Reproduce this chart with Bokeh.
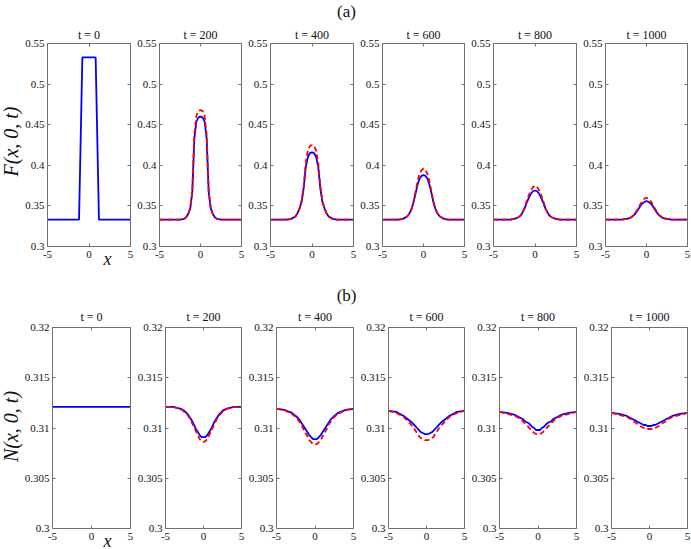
import math
from bokeh.plotting import figure
from bokeh.models import Range1d, FixedTicker, LinearAxis
from bokeh.layouts import row, column
from bokeh.embed import file_html
from bokeh.resources import INLINE
from bokeh.core.properties import value

# ---------------- data ----------------
TITLES = ["t = 0", "t = 200", "t = 400", "t = 600", "t = 800", "t = 1000"]

X = [-5, -4, -3, -2.5, -2, -1.75, -1.5, -1.25, -1, -0.75, -0.5, -0.25, 0,
     0.25, 0.5, 0.75, 1, 1.25, 1.5, 1.75, 2, 2.5, 3, 4, 5]

X_INIT_F = [-5, -1.2, -0.8, 0.8, 1.2, 5]
F_INIT = [0.333, 0.333, 0.533, 0.533, 0.333, 0.333]
X_INIT_N = [-5, 5]
N_INIT = [0.3121, 0.3121]

F_SOLID_200 = [0.333, 0.333, 0.333, 0.333, 0.334, 0.336, 0.340, 0.347, 0.367, 0.433, 0.454, 0.459, 0.460,
               0.459, 0.454, 0.433, 0.367, 0.347, 0.340, 0.336, 0.334, 0.333, 0.333, 0.333, 0.333]
F_DASH_200 = [0.333, 0.333, 0.333, 0.333, 0.334, 0.336, 0.340, 0.347, 0.368, 0.438, 0.461, 0.467, 0.468,
              0.467, 0.461, 0.438, 0.368, 0.347, 0.340, 0.336, 0.334, 0.333, 0.333, 0.333, 0.333]
F_SOLID_400 = [0.333, 0.333, 0.333, 0.334, 0.337, 0.341, 0.347, 0.355, 0.372, 0.398, 0.410, 0.415, 0.416,
               0.415, 0.410, 0.398, 0.372, 0.355, 0.347, 0.341, 0.337, 0.334, 0.333, 0.333, 0.333]
F_DASH_400 = [0.333, 0.333, 0.333, 0.334, 0.337, 0.341, 0.347, 0.356, 0.375, 0.403, 0.418, 0.424, 0.425,
              0.424, 0.418, 0.403, 0.375, 0.356, 0.347, 0.341, 0.337, 0.334, 0.333, 0.333, 0.333]
F_SOLID_600 = [0.333, 0.333, 0.333, 0.334, 0.337, 0.340, 0.345, 0.353, 0.364, 0.375, 0.383, 0.387, 0.388,
               0.387, 0.383, 0.375, 0.364, 0.353, 0.345, 0.340, 0.337, 0.334, 0.333, 0.333, 0.333]
F_DASH_600 = [0.333, 0.333, 0.333, 0.334, 0.337, 0.340, 0.345, 0.354, 0.366, 0.379, 0.389, 0.394, 0.396,
              0.394, 0.389, 0.379, 0.366, 0.354, 0.345, 0.340, 0.337, 0.334, 0.333, 0.333, 0.333]
F_SOLID_800 = [0.333, 0.333, 0.333, 0.334, 0.336, 0.338, 0.342, 0.347, 0.354, 0.360, 0.365, 0.368, 0.369,
               0.368, 0.365, 0.360, 0.354, 0.347, 0.342, 0.338, 0.336, 0.334, 0.333, 0.333, 0.333]
F_DASH_800 = [0.333, 0.333, 0.333, 0.334, 0.336, 0.338, 0.342, 0.348, 0.356, 0.363, 0.369, 0.373, 0.375,
              0.373, 0.369, 0.363, 0.356, 0.348, 0.342, 0.338, 0.336, 0.334, 0.333, 0.333, 0.333]
F_SOLID_1000 = [0.333, 0.333, 0.333, 0.334, 0.335, 0.337, 0.339, 0.342, 0.346, 0.350, 0.353, 0.355, 0.356,
                0.355, 0.353, 0.350, 0.346, 0.342, 0.339, 0.337, 0.335, 0.334, 0.333, 0.333, 0.333]
F_DASH_1000 = [0.333, 0.333, 0.333, 0.334, 0.335, 0.337, 0.339, 0.343, 0.347, 0.352, 0.356, 0.359, 0.360,
               0.359, 0.356, 0.352, 0.347, 0.343, 0.339, 0.337, 0.335, 0.334, 0.333, 0.333, 0.333]

N_SOLID_200 = [0.3121, 0.3121, 0.3119, 0.3117, 0.3113, 0.3110, 0.3107, 0.3103, 0.3099, 0.3096, 0.3093, 0.3091, 0.3091,
               0.3091, 0.3093, 0.3096, 0.3099, 0.3103, 0.3107, 0.3110, 0.3113, 0.3117, 0.3119, 0.3121, 0.3121]
N_DASH_200 = [0.3121, 0.3121, 0.3119, 0.3116, 0.3112, 0.3109, 0.3105, 0.3101, 0.3097, 0.3093, 0.3089, 0.3087, 0.3086,
              0.3087, 0.3089, 0.3093, 0.3097, 0.3101, 0.3105, 0.3109, 0.3112, 0.3116, 0.3119, 0.3121, 0.3121]
N_SOLID_400 = [0.3119, 0.3118, 0.3115, 0.3112, 0.3108, 0.3105, 0.3102, 0.3099, 0.3096, 0.3093, 0.3091, 0.3089, 0.3089,
               0.3089, 0.3091, 0.3093, 0.3096, 0.3099, 0.3102, 0.3105, 0.3108, 0.3112, 0.3115, 0.3118, 0.3119]
N_DASH_400 = [0.3119, 0.3118, 0.3114, 0.3111, 0.3106, 0.3103, 0.3099, 0.3095, 0.3092, 0.3088, 0.3086, 0.3084, 0.3084,
              0.3084, 0.3086, 0.3088, 0.3092, 0.3095, 0.3099, 0.3103, 0.3106, 0.3111, 0.3114, 0.3118, 0.3119]
N_SOLID_600 = [0.3117, 0.3116, 0.3112, 0.3109, 0.3106, 0.3104, 0.3102, 0.3100, 0.3098, 0.3096, 0.3095, 0.3094, 0.3094,
               0.3094, 0.3095, 0.3096, 0.3098, 0.3100, 0.3102, 0.3104, 0.3106, 0.3109, 0.3112, 0.3116, 0.3117]
N_DASH_600 = [0.3117, 0.3115, 0.3111, 0.3107, 0.3103, 0.3101, 0.3098, 0.3095, 0.3092, 0.3090, 0.3089, 0.3088, 0.3088,
              0.3088, 0.3089, 0.3090, 0.3092, 0.3095, 0.3098, 0.3101, 0.3103, 0.3107, 0.3111, 0.3115, 0.3117]
N_SOLID_800 = [0.3116, 0.3115, 0.3113, 0.3111, 0.3109, 0.3107, 0.3106, 0.3105, 0.3103, 0.3101, 0.3100, 0.3098, 0.3098,
               0.3098, 0.3100, 0.3101, 0.3103, 0.3105, 0.3106, 0.3107, 0.3109, 0.3111, 0.3113, 0.3115, 0.3116]
N_DASH_800 = [0.3116, 0.3114, 0.3112, 0.3110, 0.3107, 0.3105, 0.3103, 0.3101, 0.3099, 0.3097, 0.3095, 0.3094, 0.3094,
              0.3094, 0.3095, 0.3097, 0.3099, 0.3101, 0.3103, 0.3105, 0.3107, 0.3110, 0.3112, 0.3114, 0.3116]
N_SOLID_1000 = [0.3115, 0.3114, 0.3112, 0.3110, 0.3108, 0.3107, 0.3106, 0.3105, 0.3104, 0.3103, 0.3103, 0.3102, 0.3102,
                0.3102, 0.3103, 0.3103, 0.3104, 0.3105, 0.3106, 0.3107, 0.3108, 0.3110, 0.3112, 0.3114, 0.3115]
N_DASH_1000 = [0.3115, 0.3113, 0.3111, 0.3109, 0.3106, 0.3105, 0.3103, 0.3102, 0.3101, 0.3100, 0.3099, 0.3099, 0.3099,
               0.3099, 0.3099, 0.3100, 0.3101, 0.3102, 0.3103, 0.3105, 0.3106, 0.3109, 0.3111, 0.3113, 0.3115]

XTICKS = [-5, 0, 5]
XTICK_LABELS = ["-5", "0", "5"]
F_YTICKS = [0.3, 0.35, 0.4, 0.45, 0.5, 0.55]
F_YTICK_LABELS = ["0.3", "0.35", "0.4", "0.45", "0.5", "0.55"]
N_YTICKS = [0.3, 0.305, 0.31, 0.315, 0.32]
N_YTICK_LABELS = ["0.3", "0.305", "0.31", "0.315", "0.32"]

F_SOLID = [F_INIT, F_SOLID_200, F_SOLID_400, F_SOLID_600, F_SOLID_800, F_SOLID_1000]
F_DASH = [None, F_DASH_200, F_DASH_400, F_DASH_600, F_DASH_800, F_DASH_1000]
N_SOLID = [N_INIT, N_SOLID_200, N_SOLID_400, N_SOLID_600, N_SOLID_800, N_SOLID_1000]
N_DASH = [None, N_DASH_200, N_DASH_400, N_DASH_600, N_DASH_800, N_DASH_1000]

# ---------------- layout (page pixels) ----------------
TOP_FRAME_LEFT = [47, 158, 270, 381, 493, 604]
BOT_FRAME_LEFT = [52, 163, 275, 386, 498, 609]
FIG_EDGES = [0, 134, 245, 357, 468, 580, 691]
TOP_FW, BOT_FW = 83, 78
TOP_H, BOT_H = 285, 264
TOP_FT, TOP_FH = 43, 203
BOT_FT, BOT_FH = 42, 201      # relative to the bottom row (starts at 285)

SERIF = "Liberation Serif"
AX_COL = "#707070"
TXT_COL = "#111111"


def style_axis(ax, ticks, labels, show, standoff):
    ax.ticker = FixedTicker(ticks=ticks)
    ax.major_tick_in = 3
    ax.major_tick_out = 0
    ax.minor_tick_line_color = None
    ax.axis_line_color = AX_COL
    ax.major_tick_line_color = AX_COL
    ax.major_label_text_font = SERIF
    ax.major_label_text_font_size = "11px"
    ax.major_label_text_color = TXT_COL
    if show:
        ax.major_label_standoff = standoff
        ax.major_label_overrides = dict(zip(ticks, labels))
    else:
        ax.major_label_standoff = 0
        ax.major_label_text_font_size = "0px"
        ax.major_label_overrides = {t: "" for t in ticks}


def add_text(p, x, y, s, size, style="normal", angle=0.0):
    p.text(x=[x], y=[y], text=[s], angle=angle,
           text_align=value("center"), text_baseline=value("middle"),
           text_font=value(SERIF), text_font_size=value(size),
           text_font_style=value(style), text_color=TXT_COL, level="overlay")


def panel(i, top):
    x0, x1 = FIG_EDGES[i], FIG_EDGES[i + 1]
    if top:
        fl = TOP_FRAME_LEFT[i]
        fw, ft, fh, H = TOP_FW, TOP_FT, TOP_FH, TOP_H
        ymin, ymax = 0.3, 0.55
        yt, ytl = F_YTICKS, F_YTICK_LABELS
        solid, dash = F_SOLID[i], F_DASH[i]
        xs0 = X_INIT_F
        y_off = 0
    else:
        fl = BOT_FRAME_LEFT[i]
        fw, ft, fh, H = BOT_FW, BOT_FT, BOT_FH, BOT_H
        ymin, ymax = 0.3, 0.32
        yt, ytl = N_YTICKS, N_YTICK_LABELS
        solid, dash = N_SOLID[i], N_DASH[i]
        xs0 = X_INIT_N
        y_off = TOP_H
    lb = fl - x0
    rb = x1 - (fl + fw)
    bb = H - ft - fh
    p = figure(width=x1 - x0, height=H,
               x_range=Range1d(-5, 5), y_range=Range1d(ymin, ymax),
               output_backend="svg", toolbar_location=None,
               min_border_left=lb, min_border_right=rb,
               min_border_top=ft, min_border_bottom=bb)
    p.xgrid.grid_line_color = None
    p.ygrid.grid_line_color = None
    p.outline_line_color = None
    p.background_fill_color = "white"
    p.border_fill_color = "white"

    style_axis(p.xaxis[0], XTICKS, XTICK_LABELS, True, 4)
    style_axis(p.yaxis[0], yt, ytl, True, 3)
    ax_r = LinearAxis()
    style_axis(ax_r, yt, ytl, False, 0)
    p.add_layout(ax_r, "right")
    ax_t = LinearAxis()
    style_axis(ax_t, XTICKS, XTICK_LABELS, False, 0)
    p.add_layout(ax_t, "above")

    xs = xs0 if i == 0 else X
    p.line(xs, solid, line_color="#0000ff", line_width=1.8)
    if dash is not None:
        p.line(X, dash, line_color="#ff0000", line_width=1.8, line_dash="5 3")

    # page pixel -> data helpers
    def dx(px):
        return -5 + (px - fl) * 10.0 / fw

    def dy(py):
        return ymax - (py - y_off - ft) * (ymax - ymin) / fh

    add_text(p, 0, dy(34 if top else 316), TITLES[i], "12px")
    if i == 0:
        add_text(p, dx(10), dy(141 if top else 426), "F(x, 0, t)" if top else "N(x, 0, t)",
                 "20px", "italic", math.pi / 2)
        add_text(p, dx(107), dy(258 if top else 540), "x", "18px", "italic")
    if i == 2:
        add_text(p, dx(346), dy(11 if top else 295), "(a)" if top else "(b)", "17px")
    return p


top_row = row([panel(i, True) for i in range(6)], spacing=0)
bottom_row = row([panel(i, False) for i in range(6)], spacing=0)
layout = column([top_row, bottom_row], spacing=0)

open("out.html", "w").write(file_html(layout, INLINE))
